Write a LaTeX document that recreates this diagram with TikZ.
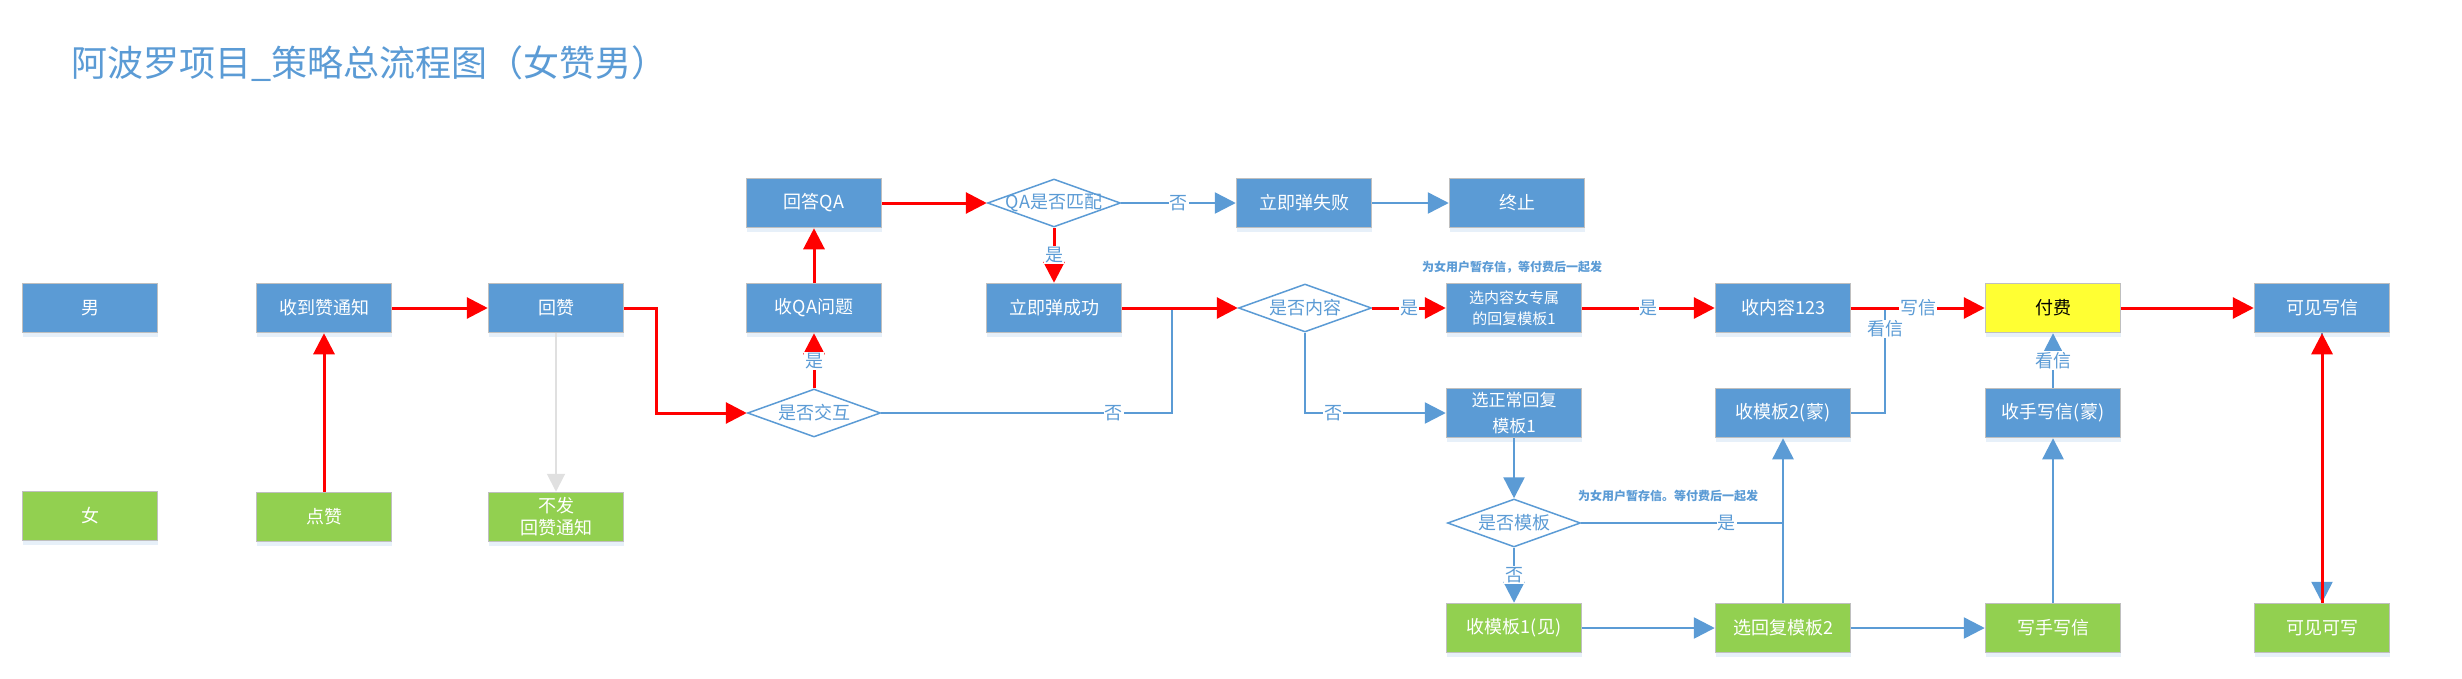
\documentclass[tikz,border=0pt]{standalone}
\usepackage{fontspec}
\setmainfont{Noto Sans CJK SC}
\usetikzlibrary{arrows.meta,shapes.geometric,shadows}
\definecolor{boxblue}{HTML}{5B9BD5}
\definecolor{boxgreen}{HTML}{92D050}
\definecolor{payyellow}{HTML}{FFFF33}
\definecolor{flowred}{HTML}{FF0000}
\definecolor{edgegrey}{HTML}{BFBFBF}
\tikzset{
  box/.style={rectangle, draw=edgegrey, line width=1.5pt, minimum width=135pt, minimum height=49pt, inner sep=2pt, text=white, align=center, font=\fontsize{18}{22}\selectfont, drop shadow={shadow xshift=0pt, shadow yshift=-4pt, fill=boxblue, opacity=0.15}},
  manbox/.style={box, fill=boxblue},
  womanbox/.style={box, fill=boxgreen},
  paybox/.style={box, fill=payyellow, text=black},
  choice/.style={diamond, draw=boxblue, fill=white, line width=1.5pt, minimum width=133pt, minimum height=48pt, inner sep=0pt},
  choicetext/.style={text=boxblue, font=\fontsize{18}{22}\selectfont},
  redflow/.style={draw=flowred, line width=3pt, -{Triangle[length=21pt,width=21pt]}},
  blueflow/.style={draw=boxblue, line width=2.5pt, -{Triangle[length=21pt,width=21pt]}},
  blueline/.style={draw=boxblue, line width=2.5pt},
  greyflow/.style={draw=black!12, line width=2pt, -{Triangle[length=18pt,width=18pt]}},
  lbl/.style={fill=white, text=boxblue, inner sep=1pt, font=\fontsize{18}{20}\selectfont},
  note/.style={text=boxblue, font=\fontsize{12}{14}\selectfont\bfseries},
}

\begin{document}
\begin{tikzpicture}[x=1pt, y=-1pt]
	%%%%% START %%%%%
	\useasboundingbox (0,0) rectangle (2462,678);
	
	\node[anchor=west, text=boxblue, font=\fontsize{36}{42}\selectfont] (title) at (68,64) {阿波罗项目\_策略总流程图（女赞男）};
	
	% roles
	\node[manbox] (man) at (90,308) {男};
	\node[womanbox] (woman) at (90,516) {女};
	
	\node[manbox] (recv) at (324,308) {收到赞通知};
	\node[manbox] (back) at (556,308) {回赞};
	\node[womanbox] (like) at (324,517) {点赞};
	\node[womanbox] (nosend) at (556,517) {不发\\回赞通知};
	
	\node[choice, label={[choicetext]center:是否交互}] (ask) at (814,413) {};
	\node[manbox] (getqa) at (814,308) {收QA问题};
	\node[manbox] (ansqa) at (814,203) {回答QA};
	
	\node[choice, label={[choicetext]center:QA是否匹配}] (match) at (1054,203) {};
	\node[manbox] (fail) at (1304,203) {立即弹失败};
	\node[manbox] (stop) at (1517,203) {终止};
	\node[manbox] (succ) at (1054,308) {立即弹成功};
	
	\node[choice, label={[choicetext]center:是否内容}] (hascon) at (1305,308) {};
	\node[manbox, font=\fontsize{15}{21}\selectfont] (pickcon) at (1514,308) {选内容女专属\\的回复模板1};
	\node[manbox, font=\fontsize{17}{26}\selectfont] (picknorm) at (1514,413) {选正常回复\\模板1};
	\node[choice, label={[choicetext]center:是否模板}] (istpl) at (1514,523) {};
	\node[womanbox] (gettpl1) at (1514,628) {收模板1(见)};
	
	\node[manbox] (getcon) at (1783,308) {收内容123};
	\node[manbox] (gettpl2) at (1783,413) {收模板2(蒙)};
	\node[womanbox] (picktpl2) at (1783,628) {选回复模板2};
	
	\node[paybox] (pay) at (2053,308) {付费};
	\node[manbox] (gethand) at (2053,413) {收手写信(蒙)};
	\node[womanbox] (writeh) at (2053,628) {写手写信};
	
	\node[manbox] (seew) at (2322,308) {可见写信};
	\node[womanbox] (seews) at (2322,628) {可见可写};
	
	\node[note] (note1) at (1512,267) {为女用户暂存信，等付费后一起发};
	\node[note] (note2) at (1668,496) {为女用户暂存信。等付费后一起发};
	
	\coordinate (backturn) at (656,413);
	\coordinate (nojoin) at (1172,308);
	\coordinate (lookjoin) at (1885,308);
	\coordinate (tpljoin) at (1783,523);
	
	% like and answer
	\draw[redflow] (like) -- (recv);
	\draw[redflow] (recv) -- (back);
	\draw[greyflow] (back) -- (nosend);
	\draw[redflow] (back.east) -| (backturn) -- (ask.west);
	\draw[redflow] (ask) -- node[lbl]{是} (getqa);
	\draw[redflow] (getqa) -- (ansqa);
	\draw[redflow] (ansqa) -- (match);
	\draw[blueflow] (match) -- node[lbl]{否} (fail);
	\draw[blueflow] (fail) -- (stop);
	\draw[redflow] (match) -- node[lbl]{是} (succ);
	
	\draw[blueline] (ask.east) -| node[lbl, pos=0.4]{否} (nojoin);
	\draw[redflow] (succ) -- (hascon);
	
	% content branch
	\draw[redflow] (hascon) -- node[lbl]{是} (pickcon);
	\draw[blueflow] (hascon.south) |- node[lbl, pos=0.6]{否} (picknorm.west);
	\draw[redflow] (pickcon) -- node[lbl]{是} (getcon);
	\draw[blueline] (gettpl2.east) -| node[lbl, pos=0.9]{看信} (lookjoin);
	\draw[redflow] (getcon) -- node[lbl]{写信} (pay);
	\draw[blueflow] (gethand) -- node[lbl]{看信} (pay);
	\draw[redflow] (pay) -- (seew);
	\draw[blueflow] (seew) -- (seews);
	\draw[redflow] (seews) -- (seew);
	
	% template branch
	\draw[blueflow] (picknorm) -- (istpl);
	\draw[blueline] (istpl.east) -- node[lbl, pos=0.72]{是} (tpljoin);
	\draw[blueflow] (picktpl2) -- (gettpl2);
	\draw[blueflow] (istpl) -- node[lbl]{否} (gettpl1);
	\draw[blueflow] (gettpl1) -- (picktpl2);
	\draw[blueflow] (picktpl2) -- (writeh);
	\draw[blueflow] (writeh) -- (gethand);
	%%%%% END %%%%%
\end{tikzpicture}
\end{document}
